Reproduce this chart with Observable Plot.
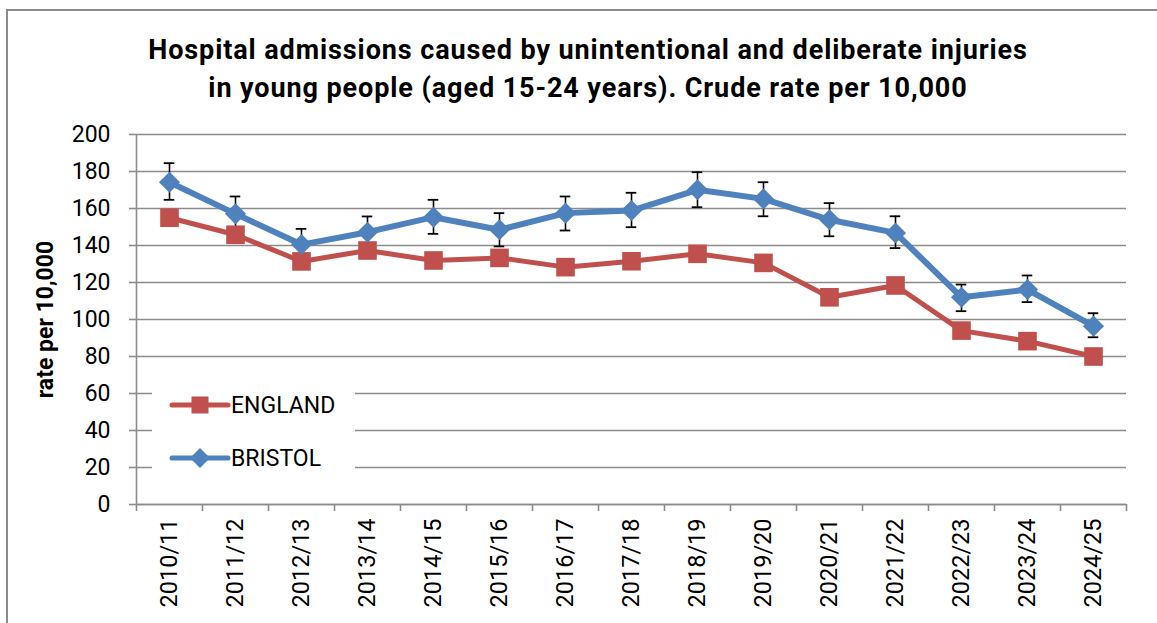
<!DOCTYPE html>
<html>
<head>
<meta charset="utf-8">
<script src="https://cdn.jsdelivr.net/npm/d3@7"></script>
<script src="https://cdn.jsdelivr.net/npm/@observablehq/plot@0.6"></script>
<style>
  html, body { margin: 0; padding: 0; background: #fff; }
  #wrap { position: relative; width: 1157px; height: 623px; overflow: hidden; font-family: Roboto, "Open Sans", sans-serif; }
  #frame { position: absolute; left: 6px; top: 9px; width: 1200px; height: 700px; border-left: 2px solid #8a8a8a; border-top: 2px solid #8a8a8a; }
  #title { position: relative; height: 120px; box-sizing: border-box; padding-top: 31px; width: 1176px; text-align: center; font-weight: bold; font-size: 27px; letter-spacing: 0.9px; line-height: 38px; color: #000; }
  #chart svg { display: block; }
  #legend { position: absolute; left: 152px; top: 365px; width: 203px; height: 125px; background: #fff; }
</style>
</head>
<body>
<div id="wrap">
  <div id="frame"></div>
  <div id="title">Hospital admissions caused by unintentional and deliberate injuries<br>in young people (aged 15-24 years). Crude rate per 10,000</div>
  <div id="chart"></div>
  <div id="legend"></div>
</div>
<script>
const categories = ["2010/11","2011/12","2012/13","2013/14","2014/15","2015/16","2016/17","2017/18","2018/19","2019/20","2020/21","2021/22","2022/23","2023/24","2024/25"];
const england = [155, 145.8, 131.4, 137.3, 131.9, 133.3, 128.3, 131.5, 135.5, 130.6, 112, 118.4, 94, 88.3, 80];
const bristol = [174.2, 157.1, 140.5, 147.2, 155.3, 148.5, 157.5, 158.9, 170.1, 165.2, 153.9, 146.8, 112, 116.2, 96.4];
const bristolLow = [164.7, 147.8, 132, 138.8, 146.3, 139.5, 148.1, 149.9, 160.7, 155.8, 145, 138.6, 104.5, 109.4, 90.4];
const bristolHigh = [184.5, 166.5, 149, 155.7, 164.7, 157.5, 166.5, 168.5, 179.6, 174.2, 162.9, 155.8, 118.9, 123.8, 103.4];
const yTicks = [0, 20, 40, 60, 80, 100, 120, 140, 160, 180, 200];
const seriesNames = ["ENGLAND", "BRISTOL"];
const yLabel = "rate per 10,000";

const RED = "#C0504D", BLUE = "#4F81BD", GRAY = "#8c8c8c";

const rows = categories.map((c, i) => ({i, cat: c, england: england[i], bristol: bristol[i], lo: bristolLow[i], hi: bristolHigh[i]}));
const idx = rows.map(d => d.i);
const bounds = [...idx.map(i => i - 0.5), idx[idx.length - 1] + 0.5];
const capHalf = 0.08;

const chart = Plot.plot({
  width: 1157,
  height: 503,
  marginTop: 14,
  marginBottom: 119,
  marginLeft: 136,
  marginRight: 31,
  style: {fontFamily: "Roboto, 'Open Sans', sans-serif", fontSize: "23px", color: "#000", background: "transparent", overflow: "visible"},
  x: {type: "linear", domain: [bounds[0], bounds[bounds.length - 1]]},
  y: {domain: [0, 200]},
  marks: [
    Plot.gridY(yTicks, {stroke: GRAY, strokeOpacity: 1, strokeWidth: 1.6}),
    Plot.ruleY([0], {stroke: GRAY, strokeWidth: 1.6}),
    Plot.ruleX([bounds[0]], {y1: 0, y2: 200, stroke: GRAY, strokeWidth: 1.6}),
    Plot.axisY(yTicks, {tickSize: 7, stroke: GRAY, strokeWidth: 1.6, tickFormat: () => "", label: null}),
    Plot.axisY(yTicks, {tickSize: 0, tickPadding: 26, fill: "#000", label: null, fontSize: 23}),
    Plot.axisX(bounds, {tickSize: 7, stroke: GRAY, strokeWidth: 1.6, tickFormat: () => "", label: null}),
    Plot.axisX(idx, {tickSize: 0, tickPadding: 14, tickRotate: -90, tickFormat: i => categories[i], fill: "#000", label: null, fontSize: 23.5}),
    Plot.text([yLabel], {frameAnchor: "left", dx: -91, rotate: -90, textAnchor: "middle", fontWeight: "bold", fontSize: 23, fill: "#000"}),
    Plot.ruleX(rows, {x: "i", y1: "lo", y2: "hi", stroke: "#000", strokeWidth: 1.6}),
    Plot.ruleY(rows, {y: "lo", x1: d => d.i - capHalf, x2: d => d.i + capHalf, stroke: "#000", strokeWidth: 1.8}),
    Plot.ruleY(rows, {y: "hi", x1: d => d.i - capHalf, x2: d => d.i + capHalf, stroke: "#000", strokeWidth: 1.8}),
    Plot.line(rows, {x: "i", y: "england", stroke: RED, strokeWidth: 5}),
    Plot.line(rows, {x: "i", y: "bristol", stroke: BLUE, strokeWidth: 6}),
    Plot.dot(rows, {x: "i", y: "england", symbol: "square", r: 10.5, fill: RED}),
    Plot.dot(rows, {x: "i", y: "bristol", symbol: "diamond2", r: 9.5, fill: BLUE})
  ]
});
document.getElementById("chart").appendChild(chart);

// Legend
const lg = d3.select("#legend").append("svg").attr("width", 203).attr("height", 125);
const items = [{name: seriesNames[0], color: RED, sym: "square", y: 40}, {name: seriesNames[1], color: BLUE, sym: "diamond", y: 93}];
items.forEach(it => {
  lg.append("line").attr("x1", 20).attr("x2", 76).attr("y1", it.y).attr("y2", it.y).attr("stroke", it.color).attr("stroke-width", 5).attr("stroke-linecap", "round");
  if (it.sym === "square") {
    lg.append("rect").attr("x", 48 - 8.5).attr("y", it.y - 8.5).attr("width", 17).attr("height", 17).attr("fill", it.color);
  } else {
    const h = 10;
    lg.append("path").attr("d", `M48,${it.y - h}L${48 + h},${it.y}L48,${it.y + h}L${48 - h},${it.y}Z`).attr("fill", it.color);
  }
  lg.append("text").attr("x", 79).attr("y", it.y).attr("dy", "0.36em").attr("font-size", 23).attr("font-family", "Roboto, 'Open Sans', sans-serif").attr("fill", "#000").text(it.name);
});
</script>
</body>
</html>
